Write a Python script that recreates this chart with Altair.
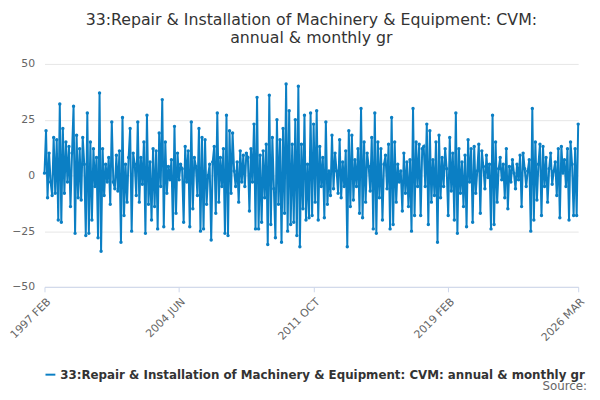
import altair as alt
import pandas as pd

values = [
 1, 20, -10, 10, -3, -9, 17, -8, 16, -20, 32,
 -21, 21, -8, 15, -3, 13, -14, 10, 31, -26, 18, -10,
 12, -11, 17, 5, -27, 28, -26, 15, -20, 12, -5, 8,
 -28, 37, -34, 12, -9, 5, -3, 8, -13, 24, -3, -6,
 9, -7, 11, -30, 26, -18, 5, -12, 8, 21, -25, 10,
 5, -9, 24, -12, 8, -4, 15, -26, 27, -13, 6, -20,
 12, -14, 11, -24, 19, -5, 34, -23, 15, -8, 4, -2,
 7, -24, 22, -17, 10, -2, 5, 3, -21, 13, -3, 11,
 -23, 24, -15, 8, 4, -9, 21, -25, 17, -24, 16, -13,
 0, 5, -29, 6, 13, -17, 28, -12, 8, -5, 12, -26,
 27, -27, 20, -8, 19, 2, -5, 6, -12, 11, -3, 9,
 -5, 10, 8, -16, 12, -3, 23, -24, 35, -24, 9, -21,
 11, -10, 14, -31, 36, -22, 17, -6, -28, 25, -13, 16,
 -30, 21, -17, 41, -25, 29, -22, 14, -21, 25, -27, 40,
 -32, 14, -15, 27, -20, 5, -19, 28, -18, 23, -12, 29,
 -20, 13, -5, 8, -19, 24, -13, 2, -9, 18, -6, 10,
 2, -8, 16, -10, 6, -5, 11, -32, 20, -14, 18, -11,
 7, -5, 12, -17, 30, -19, 15, -12, 10, 4, -7, 17,
 -24, 28, -26, 15, -10, 12, -20, 5, 9, -6, 14, -24,
 26, -22, 15, -12, 5, -3, 2, -16, 10, -8, 6, -14,
 7, -25, 30, -18, 15, -5, 14, -18, 12, 13, -5, 23,
 -22, 20, -12, 7, -9, 15, -30, 18, -10, 8, -5, 12,
 3, -18, 17, -7, 10, -20, 28, -26, 12, -8, 6, -14,
 9, -23, 16, -3, 12, -21, 13, -8, 2, 14, -17, 11,
 4, -6, 9, -1, 5, -24, 27, -22, 15, -12, 3, 8,
 -2, 5, -10, 12, -15, 4, -3, 7, 1, -6, 5, -2,
 9, -14, 10, 3, -5, 2, 7, -25, 30, -20, 15, -11,
 5, 14, -18, 13, -5, 8, -12, 3, 10, -4, 2, 6,
 -9, 12, -19, 13, 1, 7, -5, 12, -20, 15, 5, -18,
 12, -18, 23,
]
dates = pd.date_range("1997-02-01", periods=len(values), freq="MS")
labels = [d.strftime("%Y %b").upper() for d in dates]
tick_labels = ["1997 FEB", "2004 JUN", "2011 OCT", "2019 FEB", "2026 MAR"]
series = "33:Repair & Installation of Machinery & Equipment: CVM: annual & monthly gr"

df = pd.DataFrame({"period": labels, "value": values, "series": series})
F = "DejaVu Sans"

line = alt.Chart(df).mark_line(point=alt.OverlayMarkDef(size=12, filled=True), strokeWidth=2).encode(
    x=alt.X("period:O", sort=None, title=None,
            scale=alt.Scale(padding=0),
            axis=alt.Axis(values=tick_labels, labelAngle=-45, labelColor="#666", labelFontSize=11,
                          labelFont=F, domainColor="#ccd6eb", tickColor="#ccd6eb", grid=False,
                          labelPadding=4)),
    y=alt.Y("value:Q", title=None, scale=alt.Scale(domain=[-50, 50]),
            axis=alt.Axis(values=[-50, -25, 0, 25, 50], labelColor="#666", labelFontSize=11,
                          labelFont=F, domain=False, ticks=False, gridColor="#e6e6e6", labelPadding=10)),
    color=alt.Color("series:N", scale=alt.Scale(range=["#0b7fc4"]),
                    legend=alt.Legend(orient="bottom", title=None, labelFontSize=12, labelFont=F,
                                      labelColor="#333", labelFontWeight="bold", labelLimit=600,
                                      symbolType="stroke", symbolStrokeWidth=2, offset=26)),
)

source = alt.Chart(pd.DataFrame({"t": ["Source:"]})).mark_text(
    align="right", fontSize=12, color="#666", font=F).encode(
    text="t:N", x=alt.value(550), y=alt.value(327))

chart = alt.layer(line, source).properties(
    width=541, height=226,
    title=alt.Title(["33:Repair & Installation of Machinery & Equipment: CVM:", "annual & monthly gr"],
                    fontSize=16, fontWeight="normal", color="#333", anchor="middle", font=F,
                    offset=12),
    padding={"left": 0, "right": 5, "top": 2, "bottom": 5},
).configure_view(stroke=None)

chart.save("out.html", embed_options={"renderer": "svg", "actions": False})
